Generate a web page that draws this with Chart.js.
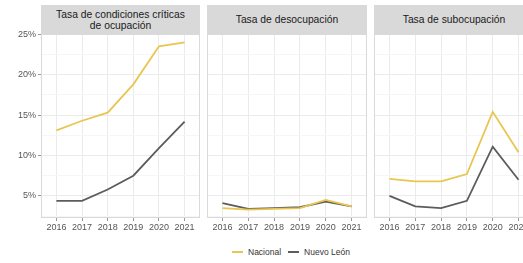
<!DOCTYPE html>
<html>
<head>
<meta charset="utf-8">
<script src="https://cdn.jsdelivr.net/npm/chart.js@4"></script>
<style>
  html, body { margin: 0; padding: 0; background: #fff; }
  body { width: 523px; height: 263px; overflow: hidden; position: relative; font-family: 'Liberation Sans', Arial, sans-serif; }
  .panel { position: absolute; top: 24px; height: 210px; }
  .strip { position: absolute; top: 5px; height: 29px; background: #d9d9d9; color: #1a1a1a; font-size: 10.3px; line-height: 11px;
           display: flex; align-items: center; justify-content: center; text-align: center; }
  .legend { position: absolute; top: 247px; left: 229px; display: flex; align-items: center; font-size: 8.5px; color: #333; white-space: nowrap; }
  .key { display: inline-block; width: 11px; height: 2px; margin: 0 5px 0 3px; }
</style>
</head>
<body>
<div class="strip" style="left:41px;width:159px">Tasa de condiciones críticas<br>de ocupación</div>
<div class="strip" style="left:207px;width:160px">Tasa de desocupación</div>
<div class="strip" style="left:374px;width:160px">Tasa de subocupación</div>

<div class="panel" style="left:0;width:200px"><canvas id="c1"></canvas></div>
<div class="panel" style="left:207px;width:160px"><canvas id="c2"></canvas></div>
<div class="panel" style="left:374px;width:160px"><canvas id="c3"></canvas></div>

<div class="legend">
  <span class="key" style="background:#e8c650"></span><span>Nacional</span>
  <span class="key" style="background:#5c5c5c;margin-left:7px"></span><span>Nuevo León</span>
</div>

<script>
const years = [2016, 2017, 2018, 2019, 2020, 2021];
const yTicks = [2.5, 5, 7.5, 10, 12.5, 15, 17.5, 20, 22.5, 25];

const nacionalCriticas = [13.1, 14.3, 15.3, 18.8, 23.5, 24.0];
const nuevoLeonCriticas = [4.4, 4.4, 5.8, 7.5, 10.9, 14.2];
const nacionalDesocupacion = [3.5, 3.3, 3.4, 3.5, 4.5, 3.7];
const nuevoLeonDesocupacion = [4.1, 3.4, 3.5, 3.6, 4.3, 3.7];
const nacionalSubocupacion = [7.1, 6.8, 6.8, 7.7, 15.4, 10.4];
const nuevoLeonSubocupacion = [5.0, 3.7, 3.5, 4.4, 11.1, 7.0];

const colNacional = '#e8c650';
const colNuevoLeon = '#5c5c5c';

Chart.defaults.font.family = "'Liberation Sans', Arial, sans-serif";
Chart.defaults.font.size = 9;
Chart.defaults.color = '#555';

// light rectangle around each facet
const panelBorder = {
  id: 'panelBorder',
  beforeDatasetsDraw(chart) {
    const { ctx, chartArea: a } = chart;
    ctx.save();
    ctx.strokeStyle = '#dadada';
    ctx.lineWidth = 1;
    ctx.strokeRect(a.left + 0.5, a.top + 0.5, a.width - 1, a.height - 1);
    ctx.restore();
  },
};

function makePanel(id, nacional, nuevoLeon, showY) {
  const pts = (vals) => years.map((yr, i) => ({ x: yr, y: vals[i] }));
  return new Chart(document.getElementById(id), {
    type: 'line',
    data: {
      datasets: [
        { label: 'Nacional', data: pts(nacional), borderColor: colNacional, borderWidth: 1.8, pointRadius: 0, tension: 0 },
        { label: 'Nuevo León', data: pts(nuevoLeon), borderColor: colNuevoLeon, borderWidth: 1.8, pointRadius: 0, tension: 0 },
      ],
    },
    options: {
      responsive: true,
      maintainAspectRatio: false,
      animation: false,
      layout: { padding: { top: 10, left: 0, right: 0, bottom: 0 } },
      plugins: { legend: { display: false }, tooltip: { enabled: false } },
      scales: {
        x: {
          type: 'linear',
          min: 2015.4,
          max: 2021.6,
          afterBuildTicks: (s) => { s.ticks = years.map((v) => ({ value: v })); },
          afterFit: (s) => { s.height = 16; s.paddingLeft = 0; s.paddingRight = 0; },
          border: { display: false },
          grid: { color: '#ebebeb', tickColor: '#999', tickLength: 3 },
          ticks: { padding: 1, maxRotation: 0, callback: (v) => String(v) },
        },
        y: {
          min: 2.27,
          max: 25.03,
          afterBuildTicks: (s) => { s.ticks = yTicks.map((v) => ({ value: v })); },
          afterFit: (s) => { s.width = showY ? 41 : 0; s.paddingTop = 0; s.paddingBottom = 0; },
          border: { display: false },
          grid: {
            color: (c) => (c.tick && c.tick.value % 5 === 0 ? '#ebebeb' : '#f6f6f6'),
            tickColor: (c) => (c.tick && c.tick.value % 5 === 0 ? '#999' : 'rgba(0,0,0,0)'),
            drawTicks: showY,
            tickLength: 3,
          },
          ticks: {
            display: showY,
            padding: 2,
            callback: (v) => (v % 5 === 0 ? v + '%' : ''),
          },
        },
      },
    },
    plugins: [panelBorder],
  });
}

makePanel('c1', nacionalCriticas, nuevoLeonCriticas, true);
makePanel('c2', nacionalDesocupacion, nuevoLeonDesocupacion, false);
makePanel('c3', nacionalSubocupacion, nuevoLeonSubocupacion, false);
</script>
</body>
</html>
